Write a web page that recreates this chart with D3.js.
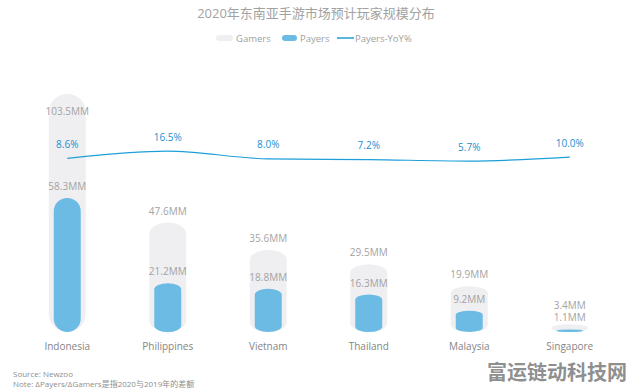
<!DOCTYPE html>
<html><head><meta charset="utf-8">
<script src="https://cdn.jsdelivr.net/npm/d3@7/dist/d3.min.js"></script>
<style>
html,body{margin:0;padding:0;background:#fff;}
svg{display:block;font-family:"Open Sans","Noto Sans","Noto Sans CJK SC",sans-serif;}
</style></head>
<body><svg id="c" width="632" height="390"></svg>
<script>
const categories = ["Indonesia","Philippines","Vietnam","Thailand","Malaysia","Singapore"];
const gamers = [103.5, 47.6, 35.6, 29.5, 19.9, 3.4];
const payers = [58.3, 21.2, 18.8, 16.3, 9.2, 1.1];
const payersYoY = [8.6, 16.5, 8.0, 7.2, 5.7, 10.0];
const titleText = "2020年东南亚手游市场预计玩家规模分布";
const legendLabels = ["Gamers","Payers","Payers-YoY%"];
const sourceText = "Source: Newzoo";
const noteText = "Note: ΔPayers/ΔGamers是指2020与2019年的差额";
const watermark = "富运链动科技网";

const svg = d3.select("#c");
const baseY = 332;
const x = d3.scaleBand().domain(categories).range([17, 620]).padding(0);
const y = d3.scaleLinear().domain([0, 110]).range([baseY, 79]);
const y2 = d3.scaleLinear().domain([0, 20]).range([166.3, 147.8]);
const cx = c => x(c) + x.bandwidth() / 2;

const grayW = 37, blueW = 27;
const grayC = "#efeff1", blueC = "#6cbbe4", lineC = "#1f9fd8", labC = "#a3a3a3";

function capsule(xc, w, yTop, yBot, ry) {
  const h = yBot - yTop;
  ry = Math.max(0, Math.min(ry, h / 2));
  const rx = w / 2, x0 = xc - rx, x1 = xc + rx;
  return `M${x0},${yTop + ry} A${rx},${ry} 0 0 1 ${x1},${yTop + ry} L${x1},${yBot - ry} A${rx},${ry} 0 0 1 ${x0},${yBot - ry} Z`;
}

// Title
svg.append("text").attr("x", 316).attr("y", 18).attr("text-anchor", "middle")
  .attr("font-size", 13).attr("fill", "#a2a2a2").text(titleText);

// Legend
const lg = svg.append("g").attr("font-size", 9.5).attr("fill", "#a0a0a0");
lg.append("rect").attr("x", 216).attr("y", 35).attr("width", 17).attr("height", 6).attr("rx", 3).attr("fill", grayC);
lg.append("text").attr("x", 236).attr("y", 41.5).text(legendLabels[0]);
lg.append("rect").attr("x", 282).attr("y", 35).attr("width", 15).attr("height", 6).attr("rx", 3).attr("fill", blueC);
lg.append("text").attr("x", 300).attr("y", 41.5).text(legendLabels[1]);
lg.append("line").attr("x1", 337).attr("x2", 354).attr("y1", 38).attr("y2", 38).attr("stroke", lineC).attr("stroke-width", 1.5);
lg.append("text").attr("x", 355).attr("y", 41.5).text(legendLabels[2]);

// Bars
const data = categories.map((c, i) => ({c, g: gamers[i], p: payers[i], r: payersYoY[i]}));
const bars = svg.append("g");
data.forEach(d => {
  const gt = y(d.g), hg = baseY - gt;
  bars.append("path").attr("d", capsule(cx(d.c), grayW, gt, baseY, Math.min(grayW / 2, 4 + 0.07 * hg))).attr("fill", grayC);
  const pt = y(d.p), hp = baseY - pt;
  bars.append("path").attr("d", capsule(cx(d.c), blueW, pt, baseY, Math.min(blueW / 2, 2 + 0.09 * hp))).attr("fill", blueC);
});

// Value labels
const labs = svg.append("g").attr("font-size", 10).attr("fill", labC).attr("text-anchor", "middle");
data.forEach(d => {
  const pY = y(d.p) - 8;
  let gY = Math.min(y(d.g) - 8, pY - 12.5);
  gY = Math.max(gY, 115);
  labs.append("text").attr("x", cx(d.c)).attr("y", gY).text(d3.format(".1f")(d.g) + "MM");
  labs.append("text").attr("x", cx(d.c)).attr("y", pY).text(d3.format(".1f")(d.p) + "MM");
});

// Line
const line = d3.line().x(d => cx(d.c)).y(d => y2(d.r)).curve(d3.curveMonotoneX);
svg.append("path").datum(data).attr("d", line).attr("fill", "none").attr("stroke", lineC).attr("stroke-width", 1.2);
svg.append("g").attr("font-size", 10).attr("fill", "#1a8fd0").attr("text-anchor", "middle")
  .selectAll("text").data(data).join("text")
  .attr("x", d => cx(d.c)).attr("y", d => y2(d.r) - 10.5)
  .text(d => d3.format(".1f")(d.r) + "%");

// Category axis labels
svg.append("g").attr("font-size", 10).attr("fill", "#858585").attr("text-anchor", "middle")
  .selectAll("text").data(categories).join("text")
  .attr("x", d => cx(d)).attr("y", 349.5).text(d => d);

// Footer
svg.append("text").attr("x", 13).attr("y", 376.5).attr("font-size", 8).attr("fill", "#8e8e8e").text(sourceText);
svg.append("text").attr("x", 13).attr("y", 386.5).attr("font-size", 8).attr("fill", "#8e8e8e").text(noteText);
svg.append("text").attr("x", 627).attr("y", 380).attr("text-anchor", "end").attr("font-size", 20).attr("font-weight", "bold")
  .attr("fill", "#8f8f8f").attr("font-family", "Noto Sans CJK SC").text(watermark);
</script></body></html>
